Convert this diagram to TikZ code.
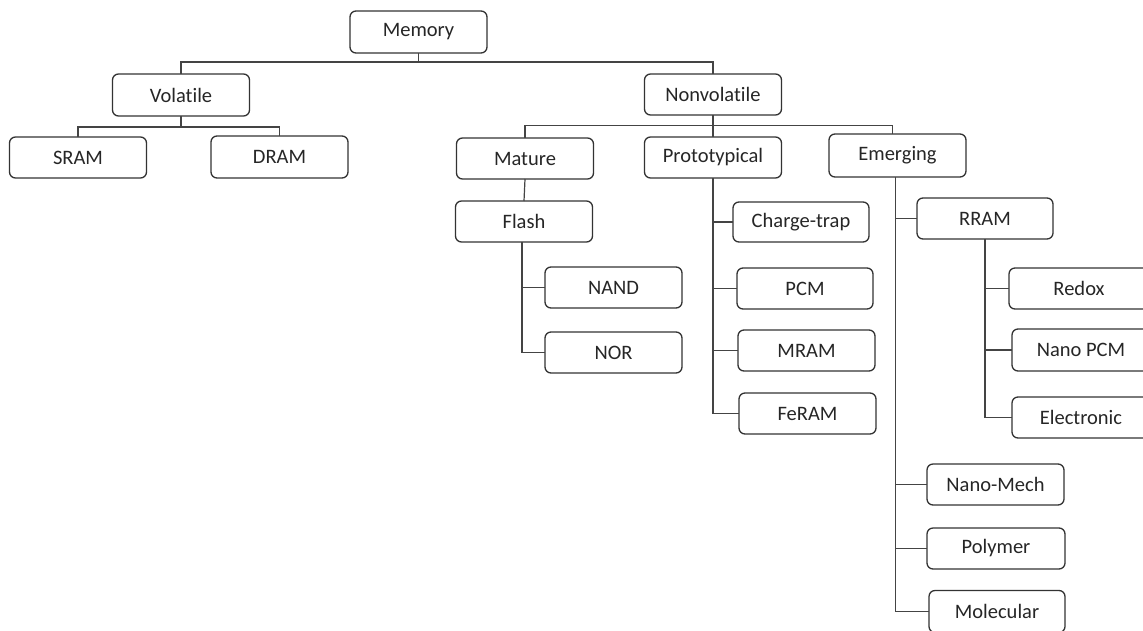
\documentclass[tikz,border=0pt]{standalone}
\usepackage{fontspec}
\setmainfont{Carlito}[Ligatures={NoCommon,NoContextual}]
\definecolor{boxline}{HTML}{333333}
\definecolor{conn}{HTML}{444444}
\definecolor{txt}{HTML}{262626}
\begin{document}
\begin{tikzpicture}[x=1pt,y=-1pt,
  box/.style={draw=boxline,line width=1.3pt,rounded corners=6pt,fill=white,
    minimum width=137pt,minimum height=41pt,inner sep=0pt,outer sep=0pt,
    text=txt,font=\fontsize{20.5}{24}\selectfont},
  link/.style={draw=conn,line width=1.2pt}]
\clip (0,0) rectangle (1143,630);
\fill[white] (0,0) rectangle (1143,630);
% nodes
\node[box,minimum height=42pt] (memory) at (418.5,32) {Memory};
\node[box,minimum height=42pt] (volatile) at (181,95) {Volatile};
\node[box] (nonvolatile) at (713,94.5) {Nonvolatile};
\node[box] (sram) at (78,157.5) {SRAM};
\node[box,minimum height=42pt] (dram) at (279.5,157) {DRAM};
\node[box] (mature) at (525,158.5) {Mature};
\node[box] (prototypical) at (713,157.5) {Prototypical};
\node[box,minimum height=43pt] (emerging) at (897.5,155.5) {Emerging};
\node[box] (flash) at (524,221.5) {Flash};
\node[box] (nand) at (613.5,287.5) {NAND};
\node[box] (nor) at (613.5,352.5) {NOR};
\node[box,minimum width=136pt,minimum height=40pt] (chargetrap) at (801,222) {Charge-trap};
\node[box,minimum width=136pt] (pcm) at (805,288.5) {PCM};
\node[box] (mram) at (806.5,350.5) {MRAM};
\node[box] (feram) at (807.5,413.5) {FeRAM};
\node[box,minimum width=136pt] (rram) at (985,218.5) {RRAM};
\node[box,minimum width=140pt] (redox) at (1079,288.5) {Redox};
\node[box,minimum width=138pt,minimum height=42pt] (nanopcm) at (1081,350) {Nano PCM};
\node[box,minimum width=138pt] (electronic) at (1081,417.5) {Electronic};
\node[box] (nanomech) at (995.5,484.5) {Nano-Mech};
\node[box,minimum width=138pt] (polymer) at (996,548.5) {Polymer};
\node[box,minimum width=136pt,minimum height=42pt] (molecular) at (997,611.5) {Molecular};
% connectors
\draw[link] (memory.south) -- ++(0,9) -| (volatile.north);
\draw[link] (memory.south) -- ++(0,9) -| (nonvolatile.north);
\draw[link] (volatile.south) -- ++(0,11) -| (sram.north);
\draw[link] (volatile.south) -- ++(0,11) -| (dram.north);
\draw[link] (nonvolatile.south) -- ++(0,10.5) -| (mature.north);
\draw[link] (nonvolatile.south) -- (prototypical.north);
\draw[link] (nonvolatile.south) -- ++(0,10.5) -| ([xshift=-5pt]emerging.north);
\draw[link] (mature.south) -- (flash.north);
\draw[link] ([xshift=-2pt]flash.south) |- (nand.west);
\draw[link] ([xshift=-2pt]flash.south) |- (nor.west);
\draw[link] (prototypical.south) |- (chargetrap.west);
\draw[link] (prototypical.south) |- (pcm.west);
\draw[link] (prototypical.south) |- (mram.west);
\draw[link] (prototypical.south) |- (feram.west);
\draw[link] ([xshift=-2pt]emerging.south) |- (rram.west);
\draw[link] ([xshift=-2pt]emerging.south) |- (nanomech.west);
\draw[link] ([xshift=-2pt]emerging.south) |- (polymer.west);
\draw[link] ([xshift=-2pt]emerging.south) |- (molecular.west);
\draw[link] (rram.south) |- (redox.west);
\draw[link] (rram.south) |- (nanopcm.west);
\draw[link] (rram.south) |- (electronic.west);
\end{tikzpicture}
\end{document}
